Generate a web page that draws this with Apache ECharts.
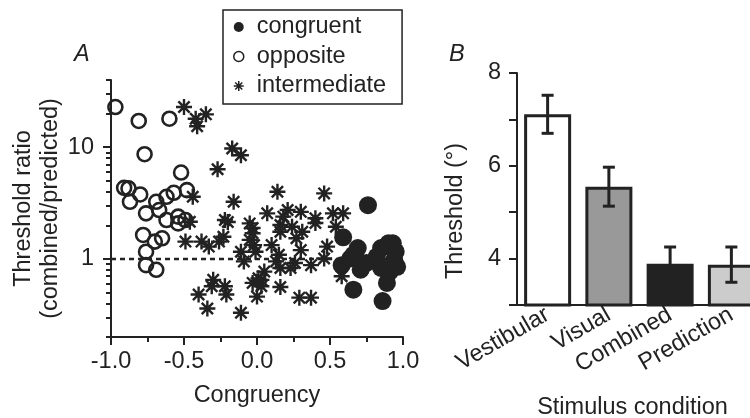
<!DOCTYPE html>
<html>
<head>
<meta charset="utf-8">
<script src="https://cdn.jsdelivr.net/npm/echarts@6/dist/echarts.min.js"></script>
<style>
  html, body { margin: 0; padding: 0; background: #fff; }
  #chart { width: 750px; height: 418px; }
</style>
</head>
<body>
<div id="chart"></div>
<script>
// ---- panel A : threshold ratio vs congruency (points are [congruency, ratio])
const congruentPoints = [
  [0.76, 3.03], [0.59, 1.56], [0.69, 1.25], [0.85, 1.25], [0.93, 1.38],
  [0.95, 1.16], [0.58, 0.88], [0.71, 0.80], [0.85, 0.83], [0.91, 0.77],
  [0.66, 0.53], [0.89, 0.61], [0.86, 0.42], [0.64, 1.01], [0.75, 0.92],
  [0.82, 1.05], [0.94, 0.98], [0.66, 1.09], [0.96, 0.85], [0.90, 1.38]
];
const oppositePoints = [
  [-0.97, 22.9], [-0.81, 17.2], [-0.60, 18.0], [-0.77, 8.66], [-0.52, 5.94],
  [-0.91, 4.33], [-0.88, 4.28], [-0.80, 3.78], [-0.87, 3.25], [-0.48, 4.13],
  [-0.57, 3.91], [-0.62, 3.60], [-0.69, 3.25], [-0.76, 2.56], [-0.67, 2.74],
  [-0.62, 2.23], [-0.54, 2.39], [-0.54, 2.08], [-0.78, 1.64], [-0.70, 1.43],
  [-0.65, 1.53], [-0.76, 1.16], [-0.76, 0.88], [-0.69, 0.80], [-0.49, 2.23]
];
const intermediatePoints = [
  [-0.50, 22.9], [-0.42, 18.0], [-0.35, 19.7], [-0.41, 15.4], [-0.17, 9.73],
  [-0.11, 8.48], [-0.27, 6.36], [-0.44, 3.60], [-0.16, 3.25], [0.14, 3.99],
  [0.46, 3.86], [-0.46, 2.15], [-0.22, 2.23], [-0.05, 2.08], [0.07, 2.56],
  [0.21, 2.74], [0.18, 2.39], [0.30, 2.64], [0.40, 2.31], [0.40, 2.10],
  [0.52, 2.56], [0.59, 2.56], [0.54, 1.94], [0.16, 2.01], [0.24, 1.94],
  [0.31, 1.75], [0.16, 1.75], [-0.03, 1.70], [-0.49, 1.43], [-0.38, 1.43],
  [-0.33, 1.29], [-0.26, 1.43], [-0.23, 1.58], [0.27, 1.53], [0.10, 1.33],
  [-0.02, 1.33], [0.48, 1.29], [-0.11, 1.16], [-0.01, 1.16], [0.30, 1.20],
  [0.15, 1.09], [0.46, 1.01], [-0.09, 0.95], [0.13, 0.95], [0.26, 0.92],
  [0.37, 0.88], [0.16, 0.83], [0.23, 0.83], [0.05, 0.77], [0.58, 0.70],
  [0.01, 0.67], [-0.03, 0.61], [-0.30, 0.65], [-0.31, 0.57], [-0.22, 0.57],
  [0.03, 0.57], [0.16, 0.56], [-0.40, 0.48], [-0.21, 0.48], [0.00, 0.46],
  [0.29, 0.45], [0.37, 0.45], [-0.34, 0.36], [-0.11, 0.33], [-0.20, 2.14],
  [-0.05, 1.48], [-0.03, 1.89], [0.03, 0.65]
];
const unityLine = [[-1, 1], [1, 1]];
const ratioMajorTicks = [1, 10];
const ratioMinorTicks = [0.2, 0.3, 0.4, 0.5, 0.6, 0.7, 0.8, 0.9,
  2, 3, 4, 5, 6, 7, 8, 9, 20, 30, 40];

// ---- panel B : thresholds per stimulus condition
const conditions = ['Vestibular', 'Visual', 'Combined', 'Prediction'];
const thresholdMean = [7.11, 5.55, 3.89, 3.87];
const thresholdErr = [0.41, 0.42, 0.36, 0.38];
const barColors = ['#ffffff', '#999999', '#222222', '#cccccc'];

const FONT = '"Liberation Sans", Arial, Helvetica, sans-serif';
const INK = '#222222';
const FS = 23.5;
const txt = { fontSize: FS, color: INK, fontFamily: FONT };
const axLine = { show: true, onZero: false, lineStyle: { color: INK, width: 2 } };
const GRID_A = { left: 111, top: 80, width: 292, height: 257 };

// eight-spoke asterisk (plus + cross)
const asterisk = 'path://M42.5,0L57.5,0L57.5,100L42.5,100Z' +
  'M0,42.5L100,42.5L100,57.5L0,57.5Z' +
  'M20,9.4L90.6,80L80,90.6L9.4,20Z' +
  'M90.6,20L20,90.6L9.4,80L80,9.4Z';

const chart = echarts.init(document.getElementById('chart'));

chart.setOption({
  animation: false,
  textStyle: { fontFamily: FONT },
  title: [
    { text: 'A', left: 74, top: 43, padding: 0,
      textStyle: Object.assign({}, txt, { fontStyle: 'italic', fontWeight: 'normal' }) },
    { text: 'B', left: 449, top: 43, padding: 0,
      textStyle: Object.assign({}, txt, { fontStyle: 'italic', fontWeight: 'normal' }) }
  ],
  legend: {
    orient: 'vertical', left: 223, top: 10,
    padding: [5, 16, 6, 10], itemGap: 5.5,
    itemWidth: 10, itemHeight: 10,
    borderColor: INK, borderWidth: 1.5,
    textStyle: Object.assign({}, txt, { padding: [0, 0, 0, 8] }),
    data: [
      { name: 'congruent', icon: 'circle' },
      { name: 'opposite', icon: 'circle', itemStyle: { borderWidth: 1.5 } },
      { name: 'intermediate', icon: asterisk }
    ]
  },
  grid: [
    Object.assign({ outerBoundsMode: 'none' }, GRID_A),
    { left: 517, top: 73, width: 245, height: 232, outerBoundsMode: 'none' }
  ],
  xAxis: [
    {
      gridIndex: 0, type: 'value', min: -1, max: 1, interval: 0.5,
      name: 'Congruency', nameLocation: 'middle', nameGap: 47, nameTextStyle: txt,
      axisLine: axLine,
      axisTick: { show: true, length: 8, lineStyle: { color: INK, width: 2 } },
      minorTick: { show: true, splitNumber: 2, length: 5, lineStyle: { color: INK, width: 2 } },
      axisLabel: Object.assign({}, txt, { margin: 13, formatter: v => v.toFixed(1) }),
      splitLine: { show: false }
    },
    {
      gridIndex: 1, type: 'category', data: conditions,
      name: 'Stimulus condition', nameLocation: 'middle', nameGap: 91,
      nameTextStyle: Object.assign({}, txt, { padding: [0, 14, 0, 0] }),
      axisLine: axLine,
      axisTick: { show: false },
      axisLabel: Object.assign({}, txt, { rotate: 30, margin: 8, interval: 0 })
    }
  ],
  yAxis: [
    {
      gridIndex: 0, type: 'log', logBase: 10, min: 0.2, max: 40, position: 'left',
      name: 'Threshold ratio\n(combined/predicted)', nameLocation: 'middle', nameGap: 47,
      nameTextStyle: Object.assign({}, txt, { lineHeight: 27 }),
      axisLine: axLine,
      axisTick: { show: true, customValues: ratioMajorTicks, length: 8, lineStyle: { color: INK, width: 2 } },
      axisLabel: Object.assign({}, txt, {
        customValues: ratioMajorTicks, margin: 17,
        formatter: v => String(Math.round(v))
      }),
      splitLine: { show: false }
    },
    {
      // minor log ticks only: a right-hand axis pulled back onto the left edge
      gridIndex: 0, type: 'log', logBase: 10, min: 0.2, max: 40,
      position: 'right', offset: -GRID_A.width,
      axisLine: { show: false, onZero: false },
      axisTick: { show: true, inside: true, customValues: ratioMinorTicks, length: 5,
        lineStyle: { color: INK, width: 2 } },
      axisLabel: { show: false },
      splitLine: { show: false }
    },
    {
      gridIndex: 1, type: 'value', min: 3, max: 8, interval: 1,
      name: 'Threshold (°)', nameLocation: 'middle', nameGap: 49,
      nameTextStyle: Object.assign({}, txt, { padding: [0, 44, 0, 0] }),
      axisLine: axLine,
      axisTick: { show: true, length: 8, lineStyle: { color: INK, width: 2 } },
      axisLabel: Object.assign({}, txt, {
        margin: 16,
        formatter: v => (v % 2 === 0 ? String(v) : '')
      }),
      splitLine: { show: false }
    }
  ],
  series: [
    {
      name: 'unity', type: 'line', xAxisIndex: 0, yAxisIndex: 0,
      data: unityLine, symbol: 'none', silent: true, z: 1,
      lineStyle: { color: INK, width: 2.5, type: [5, 4] }
    },
    {
      name: 'opposite', type: 'scatter', xAxisIndex: 0, yAxisIndex: 0,
      data: oppositePoints, symbol: 'circle', symbolSize: 14, z: 3,
      itemStyle: { color: 'rgba(0,0,0,0)', borderColor: INK, borderWidth: 2.6, opacity: 1 }
    },
    {
      name: 'intermediate', type: 'scatter', xAxisIndex: 0, yAxisIndex: 0,
      data: intermediatePoints, symbol: asterisk, symbolSize: 16, z: 3,
      itemStyle: { color: INK, opacity: 1 }
    },
    {
      name: 'congruent', type: 'scatter', xAxisIndex: 0, yAxisIndex: 0,
      data: congruentPoints, symbol: 'circle', symbolSize: 18, z: 4,
      itemStyle: { color: INK, opacity: 1 }
    },
    {
      name: 'threshold', type: 'bar', xAxisIndex: 1, yAxisIndex: 2,
      barWidth: 47,
      data: thresholdMean.map((v, i) => ({ value: v, itemStyle: { color: barColors[i] } })),
      itemStyle: { borderColor: INK, borderWidth: 3 }
    },
    {
      name: 'sem', type: 'custom', xAxisIndex: 1, yAxisIndex: 2, z: 5,
      data: thresholdMean.map((v, i) => [i, v - thresholdErr[i], v + thresholdErr[i]]),
      renderItem: function (params, api) {
        const lo = api.coord([api.value(0), api.value(1)]);
        const hi = api.coord([api.value(0), api.value(2)]);
        const w = 6;
        const style = { stroke: INK, lineWidth: 3, fill: null };
        return {
          type: 'group',
          children: [
            { type: 'line', shape: { x1: hi[0], y1: hi[1], x2: lo[0], y2: lo[1] }, style: style },
            { type: 'line', shape: { x1: hi[0] - w, y1: hi[1], x2: hi[0] + w, y2: hi[1] }, style: style },
            { type: 'line', shape: { x1: lo[0] - w, y1: lo[1], x2: lo[0] + w, y2: lo[1] }, style: style }
          ]
        };
      }
    }
  ]
});
</script>
</body>
</html>
